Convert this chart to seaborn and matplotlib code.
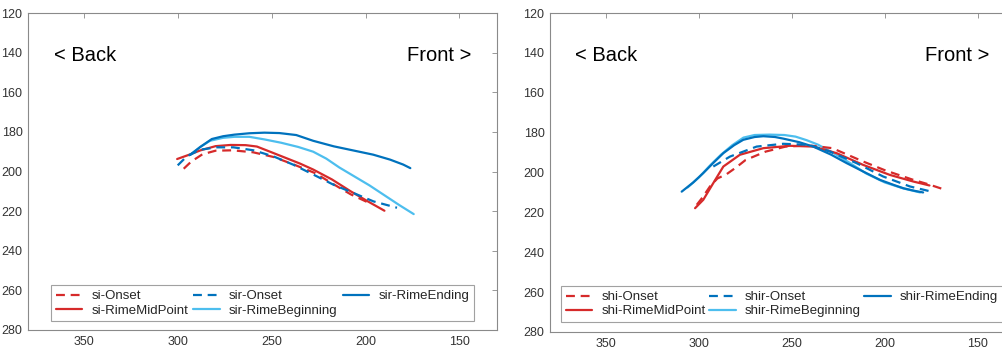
import matplotlib
matplotlib.use("Agg")
import matplotlib.pyplot as plt
import seaborn as sns

# ---- left panel (si / sir) ----
si_onset_x = [297, 293, 287, 280, 271, 260, 249, 238, 227, 217, 208, 199]
si_onset_y = [198.6, 195, 191.3, 189.5, 189.3, 190.3, 192.7, 196.6, 200.8, 206.5, 211.5, 215.5]
si_mid_x = [300.5, 294, 288, 280, 272, 264, 258, 251, 243, 235, 228, 218, 208, 199, 190]
si_mid_y = [193.7, 191.5, 189.3, 187.2, 186.6, 186.7, 187.4, 190, 193, 196, 199, 204, 210, 215, 219.8]
sir_onset_x = [300.2, 295.4, 288.3, 279.4, 270.5, 259.8, 249.1, 238.5, 227.8, 217.1, 206.4, 195.8, 183.3]
sir_onset_y = [196.9, 192.4, 189, 187.8, 187.8, 189.3, 192.4, 196.6, 201.6, 206.7, 210.9, 215.1, 218.3]
sir_beg_x = [293.6, 288, 283, 276, 270, 262, 254, 245, 236, 228, 221, 214, 206, 198, 190, 182, 174.4]
sir_beg_y = [191.6, 187.5, 184.5, 183, 182.5, 182.5, 183.8, 185.5, 187.6, 190, 193.5, 198, 202.5, 207, 212, 217, 221.5]
sir_end_x = [293.6, 288, 282, 276, 270, 262, 254, 246, 237, 228, 217, 206, 196, 187, 180, 176.2]
sir_end_y = [191.6, 187.5, 183.6, 182.2, 181.4, 180.7, 180.4, 180.6, 181.6, 184.5, 187.3, 189.5, 191.5, 194, 196.5, 198.3]

# ---- right panel (shi / shir) ----
shi_onset_x = [301.1, 298, 294, 290, 285, 280, 274.8, 264, 253.3, 245, 239, 228.2, 224, 211.6, 199.6, 185.3, 176.3, 168.8]
shi_onset_y = [216.2, 212.5, 207, 203, 200.8, 197.5, 193.7, 189.5, 187, 186.6, 186.6, 187.8, 189.5, 194.5, 199, 203.5, 206, 208.3]
shi_mid_x = [302, 297.6, 292.2, 286.8, 277.9, 265.3, 251, 238.5, 225.9, 211.6, 197.3, 184.8, 176]
shi_mid_y = [217.9, 213.7, 205.3, 197, 191.1, 187.8, 186.6, 187, 190.3, 196.2, 201.2, 204.5, 206.5]
shir_onset_x = [292.2, 283.2, 268.9, 254.6, 241, 229.5, 215.2, 200.9, 186.5, 174.9]
shir_onset_y = [197, 192, 187, 185.6, 186.1, 189.5, 195.3, 202, 207, 209.6]
shir_beg_x = [306, 300, 294, 288, 282, 276, 270, 262, 254, 248, 242, 236, 228, 220, 210, 200, 190, 181]
shir_beg_y = [207.5, 202.5, 196.5, 191, 186.3, 182.5, 181.2, 181, 181.2, 182, 183.8, 186, 190, 194.5, 200.5, 205, 208, 210]
shir_end_x = [309.2, 303, 297.6, 292, 286.8, 281, 276.1, 270, 265.3, 259, 254.6, 246, 238.5, 229, 220.5, 211, 202.6, 195, 190, 184, 179.4]
shir_end_y = [209.6, 205, 200.3, 195, 190.3, 186.3, 183.6, 182.2, 181.8, 182.2, 183, 184.8, 187, 191, 195.3, 199.8, 203.7, 206.3, 207.9, 209.2, 210]

RED = "#D62A2A"
BLUE = "#0072BD"
LIGHT = "#4DBEEE"
DASH = (0, (4, 2.6))

sns.set_style("white")
plt.rcParams["font.family"] = ["Liberation Sans", "DejaVu Sans"]

fig = plt.figure(figsize=(10.03, 3.49), dpi=100)
ax1 = fig.add_axes([28 / 1003, 1 - 330 / 349, 469 / 1003, 317 / 349])
ax2 = fig.add_axes([550 / 1003, 1 - 332 / 349, 465 / 1003, 319 / 349])

panels = [
    (ax1, [
        ("si-Onset", si_onset_x, si_onset_y, RED, DASH),
        ("si-RimeMidPoint", si_mid_x, si_mid_y, RED, "-"),
        ("sir-Onset", sir_onset_x, sir_onset_y, BLUE, DASH),
        ("sir-RimeBeginning", sir_beg_x, sir_beg_y, LIGHT, "-"),
        ("sir-RimeEnding", sir_end_x, sir_end_y, BLUE, "-"),
    ], (0.049, 0.028, 0.902, 0.12)),
    (ax2, [
        ("shi-Onset", shi_onset_x, shi_onset_y, RED, DASH),
        ("shi-RimeMidPoint", shi_mid_x, shi_mid_y, RED, "-"),
        ("shir-Onset", shir_onset_x, shir_onset_y, BLUE, DASH),
        ("shir-RimeBeginning", shir_beg_x, shir_beg_y, LIGHT, "-"),
        ("shir-RimeEnding", shir_end_x, shir_end_y, BLUE, "-"),
    ], (0.024, 0.031, 0.95, 0.12)),
]

for ax, series, lbox in panels:
    # light blue first so the darker lines sit on top
    order = [3, 0, 1, 2, 4]
    for i in order:
        name, xs, ys, col, ls = series[i]
        sns.lineplot(x=xs, y=ys, sort=False, estimator=None, ax=ax,
                     color=col, linestyle=ls, linewidth=1.6, label=name)

    ax.set_xlim(380, 130)
    ax.set_ylim(280, 120)
    ax.set_xticks([350, 300, 250, 200, 150])
    ax.set_yticks([120, 140, 160, 180, 200, 220, 240, 260, 280])
    ax.tick_params(direction="in", top=True, right=True, length=3.5, width=0.6,
                   labelsize=9, labelcolor="#333333", color="#888888", pad=4)
    for sp in ax.spines.values():
        sp.set_color("#8a8a8a")
        sp.set_linewidth(0.8)

    ax.text(366.3, 141.5, "< Back", fontsize=14.5, ha="left", va="center", color="black")
    ax.text(143.7, 141.5, "Front >", fontsize=14.5, ha="right", va="center", color="black")

    handles, labels = ax.get_legend_handles_labels()
    hmap = dict(zip(labels, handles))
    names = [s[0] for s in series]
    leg = ax.legend([hmap[n] for n in names], names, ncol=3, loc="lower left",
                    bbox_to_anchor=lbox, mode="expand", fontsize=9.5,
                    frameon=True, fancybox=False, handlelength=2.0,
                    handletextpad=0.7, borderpad=0.35, labelspacing=0.15,
                    borderaxespad=0)
    leg.get_frame().set_edgecolor("#8a8a8a")
    leg.get_frame().set_linewidth(0.8)
    ax.set_xlabel("")
    ax.set_ylabel("")

fig.savefig("out.png", dpi=100)
